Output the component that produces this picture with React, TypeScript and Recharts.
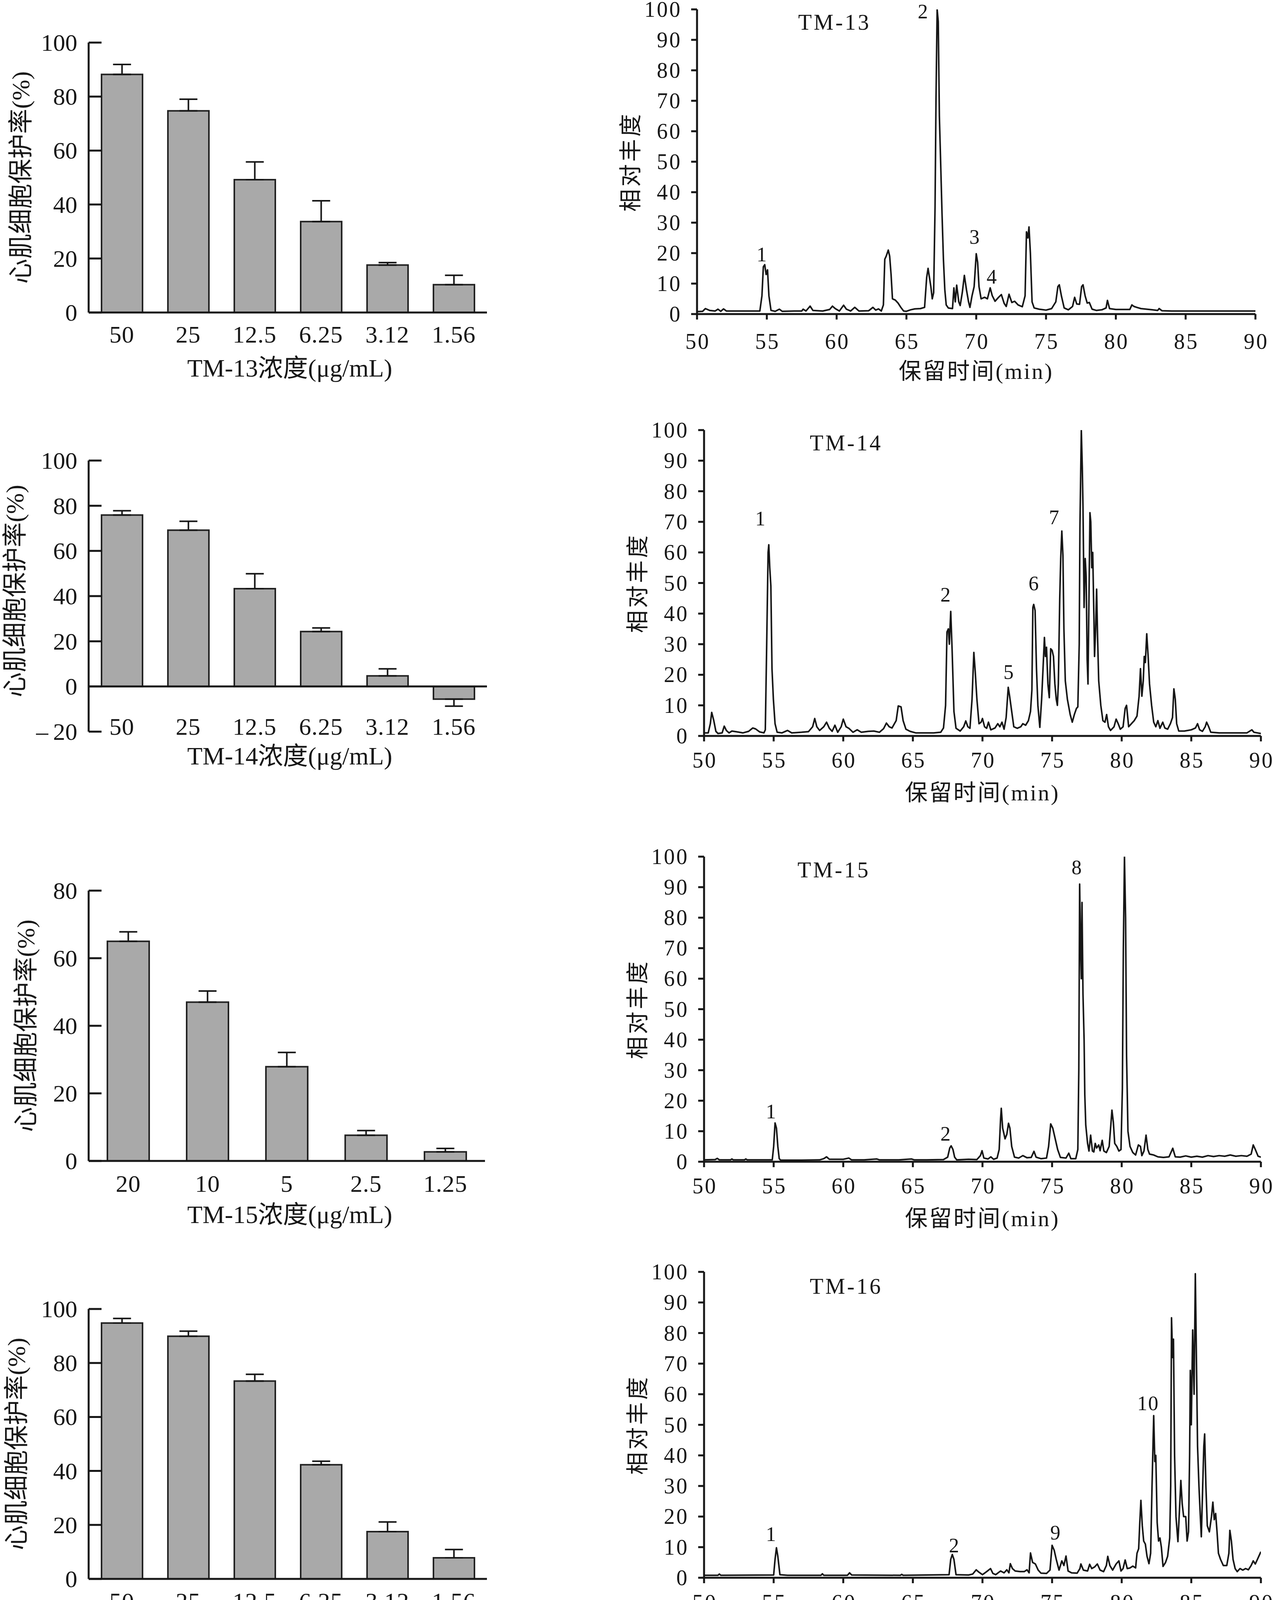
import React from 'react';
import {
  BarChart,
  Bar,
  XAxis,
  YAxis,
  ErrorBar,
  ReferenceLine,
  LineChart,
  Line,
  ReferenceDot,
} from 'recharts';

const FONT = "'Liberation Serif', 'Noto Sans CJK SC', serif";
const INK = '#161616';

// ---------- bar chart data ----------
const concA = ['50', '25', '12.5', '6.25', '3.12', '1.56'];
const concB = ['20', '10', '5', '2.5', '1.25'];

const tm13Rate = [88.2, 74.7, 49.2, 33.7, 17.6, 10.3];
const tm13Err = [3.7, 4.3, 6.6, 7.7, 0.9, 3.5];
const tm14Rate = [75.9, 69.2, 43.3, 24.3, 4.7, -5.6];
const tm14Err = [1.9, 3.9, 6.6, 1.6, 3.1, 3.1];
const tm15Rate = [65.0, 47.0, 27.9, 7.6, 2.7];
const tm15Err = [2.8, 3.3, 4.2, 1.4, 1.0];
const tm16Rate = [94.8, 89.9, 73.3, 42.3, 17.5, 7.8];
const tm16Err = [1.7, 1.9, 2.5, 1.3, 3.6, 3.1];
const tm17Rate = [92.7, 78.9, 35.4, 17.1, 10.8, 4.4];
const tm17Err = [2.2, 4.3, 3.6, 2.2, 3.0, 3.9];

const rateTicks100 = [0, 20, 40, 60, 80, 100];
const rateTicks14 = [-20, 0, 20, 40, 60, 80, 100];
const rateTicks80 = [0, 20, 40, 60, 80];

// ---------- chromatogram data ----------
const timeTicks = [50, 55, 60, 65, 70, 75, 80, 85, 90];
const abundTicks = [0, 10, 20, 30, 40, 50, 60, 70, 80, 90, 100];

const tm13Trace = [
  [50, 0.8], [50.4, 0.9], [50.6, 1.8], [50.9, 1.2], [51.3, 1.0], [51.5, 1.6], [51.7, 0.9], [51.9, 1.7], [52.1, 1.0], [53, 1.0], [54, 1.0], [54.5, 1.0],
  [54.65, 6], [54.75, 15.5], [54.85, 16.2], [54.95, 13], [55.05, 14.5], [55.15, 6], [55.3, 1.2], [55.6, 0.9], [55.9, 1.6], [56.1, 0.9], [57, 1.0], [57.5, 1.0],
  [57.6, 1.6], [57.8, 1.0], [58.1, 2.6], [58.3, 1.2], [59, 1.0], [59.5, 1.5], [59.7, 2.6], [59.9, 1.8], [60.2, 1.0], [60.5, 2.9], [60.7, 1.6], [61.0, 1.0],
  [61.3, 2.2], [61.6, 1.0], [62.3, 1.1], [62.6, 2.2], [62.8, 1.3], [63.0, 1.7], [63.2, 1.0], [63.35, 3], [63.45, 18], [63.55, 19], [63.7, 21], [63.8, 19],
  [63.9, 13], [64.0, 5], [64.2, 4.6], [64.4, 3.6], [64.6, 2.2], [64.8, 1.0], [65.0, 0.9], [65.3, 1.4], [65.6, 1.7], [66.0, 1.8], [66.3, 2.2], [66.45, 12],
  [66.55, 15], [66.65, 12], [66.75, 9], [66.85, 5], [66.95, 7], [67.05, 35], [67.12, 71], [67.2, 100], [67.28, 96], [67.36, 65], [67.45, 50], [67.55, 33],
  [67.65, 18], [67.75, 8], [67.85, 3], [68.0, 2], [68.3, 1.8], [68.4, 8.6], [68.5, 4], [68.6, 9.5], [68.75, 4], [68.85, 2.8], [69.0, 7], [69.15, 12.7],
  [69.3, 8], [69.45, 4], [69.55, 2.2], [69.7, 6], [69.85, 9], [70.0, 19.8], [70.1, 17], [70.2, 9], [70.35, 5], [70.6, 5.5], [70.8, 5], [71.0, 8.6],
  [71.15, 6], [71.35, 4.2], [71.6, 5.5], [71.8, 6.4], [72.0, 3.5], [72.15, 2.5], [72.35, 6.5], [72.55, 3.8], [72.75, 4.2], [73.0, 3], [73.3, 2.4], [73.5, 6],
  [73.6, 27], [73.7, 25], [73.78, 28.6], [73.88, 20], [74.0, 4], [74.15, 2], [74.5, 1.6], [75.0, 1.3], [75.4, 1.8], [75.7, 4], [75.85, 9], [75.95, 9.6],
  [76.1, 6], [76.3, 2], [76.6, 1.4], [76.9, 2.5], [77.05, 5.5], [77.2, 3.3], [77.4, 3.2], [77.55, 9], [77.65, 9.6], [77.8, 6], [77.95, 3.6], [78.1, 3.8],
  [78.3, 1.6], [78.6, 1.2], [79.0, 1.4], [79.3, 2], [79.4, 4.5], [79.55, 1.8], [80.0, 1.5], [80.5, 1.5], [81.0, 1.5], [81.15, 3], [81.3, 2.5], [81.5, 2.2],
  [81.8, 1.8], [82.2, 1.6], [82.6, 1.4], [83.0, 1.2], [83.1, 1.8], [83.3, 1.1], [84, 1.0], [85, 1.0], [86, 1.0], [87, 1.0], [88, 1.0], [89, 1.0], [90, 1.0],
];

const tm14Trace = [
  [50, 1.0], [50.3, 1.0], [50.45, 4], [50.55, 7.7], [50.7, 5], [50.85, 1.5], [51.0, 0.8], [51.3, 1.0], [51.45, 3.2], [51.6, 1.8], [51.8, 1.0], [52.0, 1.6],
  [52.4, 1.3], [52.8, 1.0], [53.2, 1.5], [53.5, 2.6], [53.7, 2.3], [54.0, 1.3], [54.3, 1.0], [54.4, 2], [54.5, 30], [54.6, 60], [54.65, 62.5], [54.72, 55],
  [54.8, 49], [54.88, 22], [54.98, 12], [55.1, 4], [55.25, 1.2], [55.6, 1.0], [56.0, 1.8], [56.3, 1.0], [57.0, 1.2], [57.5, 1.4], [57.8, 3], [57.95, 5.7],
  [58.1, 3], [58.3, 1.8], [58.6, 3], [58.8, 4.5], [59.0, 2.5], [59.2, 1.5], [59.4, 3.5], [59.6, 1.2], [59.85, 3], [60.0, 5.5], [60.2, 3], [60.4, 2.5],
  [60.7, 1.2], [61.0, 2], [61.3, 1.2], [61.8, 1.5], [62.2, 1.6], [62.6, 1.2], [62.9, 2.4], [63.1, 4.2], [63.3, 3], [63.5, 2.6], [63.8, 5], [63.95, 9.8],
  [64.15, 9.5], [64.3, 5], [64.5, 2.2], [64.8, 1.5], [65.2, 1.0], [65.8, 1.0], [66.5, 1.0], [67.0, 1.2], [67.2, 2.6], [67.35, 10], [67.45, 34], [67.55, 35],
  [67.62, 30], [67.72, 40.7], [67.82, 28], [67.95, 8], [68.1, 2.5], [68.4, 1.6], [68.65, 3], [68.8, 4.9], [68.95, 3], [69.1, 2.5], [69.25, 12], [69.38, 27.3],
  [69.48, 21], [69.6, 12], [69.75, 4], [69.9, 4.5], [70.0, 5.7], [70.15, 3], [70.3, 2.5], [70.43, 4.5], [70.6, 2], [70.9, 2.6], [71.1, 4], [71.25, 3],
  [71.4, 4.5], [71.55, 2.2], [71.7, 6], [71.85, 15.9], [71.95, 13], [72.1, 8], [72.25, 3], [72.5, 2.5], [72.75, 3], [72.9, 4], [73.1, 3.5], [73.3, 5],
  [73.45, 8], [73.55, 15], [73.62, 42], [73.68, 43], [73.78, 41], [73.88, 22], [73.98, 10], [74.12, 2.8], [74.25, 12], [74.35, 22], [74.45, 32.2], [74.52, 26],
  [74.6, 29], [74.7, 17], [74.8, 12.5], [74.9, 28.5], [75.0, 28], [75.1, 26], [75.2, 17], [75.3, 12], [75.38, 10], [75.45, 17], [75.55, 45], [75.62, 58],
  [75.7, 67], [75.78, 59], [75.85, 35], [75.95, 18], [76.1, 12], [76.3, 7], [76.45, 4.5], [76.6, 7], [76.75, 9], [76.85, 9.5], [76.95, 30], [77.0, 68],
  [77.1, 100], [77.17, 88], [77.22, 75], [77.3, 42], [77.38, 58], [77.45, 52], [77.52, 25], [77.58, 17], [77.65, 45], [77.72, 73], [77.78, 70], [77.85, 55],
  [77.92, 60], [78.0, 40], [78.05, 26], [78.13, 35], [78.2, 48], [78.27, 32], [78.35, 18], [78.5, 10], [78.65, 5], [78.8, 4.5], [78.92, 7], [79.05, 3],
  [79.2, 1.8], [79.45, 3], [79.6, 5.5], [79.75, 4], [79.9, 2.2], [80.1, 3], [80.25, 9], [80.35, 10], [80.5, 3], [80.7, 4], [80.9, 5], [81.1, 6.5],
  [81.25, 13], [81.35, 22], [81.45, 13], [81.55, 18], [81.62, 26], [81.7, 24], [81.8, 33.4], [81.9, 26], [82.0, 17], [82.15, 10], [82.3, 4.5], [82.45, 3],
  [82.6, 5], [82.75, 2.5], [82.95, 4.5], [83.1, 2.6], [83.3, 2.2], [83.5, 4], [83.65, 6], [83.75, 15.4], [83.85, 12], [83.95, 4], [84.1, 1.6], [84.5, 1.6],
  [85.0, 2], [85.3, 2.6], [85.45, 4], [85.6, 2], [85.8, 1.5], [86.0, 3], [86.1, 4.5], [86.25, 3], [86.4, 1.2], [87, 1.0], [87.5, 1.0], [88, 1.0],
  [88.5, 1.0], [89, 1.0], [89.35, 2], [89.5, 1.2], [90, 0.8],
];

const tm15Trace = [
  [50, 0.6], [50.8, 0.7], [50.95, 1.1], [51.1, 0.6], [51.9, 0.6], [52.0, 0.9], [52.1, 0.6], [52.9, 0.6], [53.0, 0.9], [53.1, 0.6], [54.9, 0.6], [55.0, 5],
  [55.1, 12.7], [55.2, 11], [55.3, 5], [55.4, 1], [55.5, 0.5], [56, 0.5], [57, 0.5], [58.3, 0.6], [58.6, 1], [58.8, 1.6], [59.0, 0.8], [59.5, 0.8],
  [60.0, 0.8], [60.4, 1.2], [60.6, 0.6], [61.5, 0.6], [62.4, 0.9], [62.6, 0.6], [64, 0.6], [64.9, 0.9], [65.1, 0.6], [66, 0.6], [67.2, 0.7], [67.5, 1.5],
  [67.65, 4.5], [67.75, 5.2], [67.88, 4], [68.0, 1.5], [68.15, 0.6], [69.0, 0.8], [69.6, 0.7], [69.85, 2], [69.97, 3.6], [70.1, 1.2], [70.4, 0.9], [70.6, 1.6],
  [70.8, 0.8], [71.05, 1.2], [71.2, 4], [71.3, 14], [71.35, 17.5], [71.45, 11], [71.55, 9], [71.62, 7.5], [71.75, 9], [71.87, 12.6], [71.97, 11], [72.1, 5],
  [72.3, 1.5], [72.6, 1.2], [72.9, 2], [73.2, 1.3], [73.5, 1.4], [73.7, 3.4], [73.85, 1.5], [74.2, 1.0], [74.6, 1.2], [74.75, 5], [74.9, 12.4], [75.05, 11],
  [75.2, 8], [75.4, 4], [75.6, 1.4], [76.0, 1.2], [76.2, 2.8], [76.35, 1.0], [76.7, 1.0], [76.85, 4], [76.92, 30], [76.98, 91], [77.05, 70], [77.1, 60],
  [77.15, 85], [77.22, 55], [77.3, 40], [77.35, 22], [77.42, 12], [77.55, 6], [77.65, 3.5], [77.77, 8.7], [77.9, 3.5], [78.0, 3.2], [78.1, 6], [78.2, 4.5],
  [78.35, 5.5], [78.45, 3.6], [78.6, 7], [78.72, 3.5], [78.9, 3], [79.1, 5], [79.22, 12], [79.3, 16.9], [79.4, 13], [79.5, 6], [79.65, 5], [79.8, 3.5],
  [79.95, 4], [80.05, 24], [80.12, 70], [80.2, 100], [80.28, 80], [80.35, 35], [80.45, 10], [80.6, 5], [80.8, 3], [81.0, 2.2], [81.2, 5.5], [81.35, 5],
  [81.45, 2], [81.6, 3.5], [81.75, 8.7], [81.88, 4], [82.0, 2.5], [82.3, 2.2], [82.6, 1.6], [83.0, 1.4], [83.4, 1.6], [83.67, 4.4], [83.85, 1.6], [84.2, 1.5],
  [84.6, 1.9], [85.0, 1.5], [85.4, 1.8], [85.8, 1.5], [86.2, 2.0], [86.6, 1.7], [87.0, 2.0], [87.4, 1.8], [87.8, 2.2], [88.2, 1.8], [88.6, 2.0], [89.0, 1.8],
  [89.3, 2.5], [89.45, 5.5], [89.6, 4], [89.8, 1.8], [90, 1.5],
];

const tm16Trace = [
  [50, 0.8], [51, 0.8], [51.1, 1.2], [51.2, 0.8], [55.0, 0.9], [55.1, 6], [55.2, 9.8], [55.3, 7], [55.45, 1.0], [56, 0.8], [58.4, 0.8], [58.5, 1.3],
  [58.6, 0.8], [60.3, 0.8], [60.45, 1.6], [60.6, 0.9], [64.1, 0.8], [64.2, 1.1], [64.3, 0.8], [67.6, 1.0], [67.72, 6], [67.83, 7.6], [67.95, 6], [68.1, 1.0],
  [69.0, 0.9], [69.3, 1.2], [69.55, 2.6], [69.75, 1.8], [70.0, 1.0], [70.3, 2], [70.58, 3], [70.75, 1.4], [70.95, 1.0], [71.3, 2.2], [71.55, 1.6], [71.75, 2.6],
  [71.9, 1.6], [72.0, 4.6], [72.15, 3], [72.35, 2.2], [72.7, 2], [73.0, 2], [73.2, 2.6], [73.35, 1.6], [73.45, 8.1], [73.6, 5], [73.8, 4.5], [74.0, 2.5],
  [74.2, 1.5], [74.6, 1.4], [74.85, 2.5], [75.0, 10.6], [75.15, 9], [75.3, 6], [75.5, 2.5], [75.7, 5.5], [75.85, 4], [76.0, 7.1], [76.15, 2.2], [76.4, 1.6],
  [76.8, 1.5], [77.0, 3], [77.07, 4.5], [77.25, 2.5], [77.55, 2.2], [77.7, 4.4], [77.85, 3], [78.05, 3.5], [78.25, 4.5], [78.45, 2.5], [78.7, 2], [78.9, 4],
  [79.0, 7], [79.15, 4], [79.35, 2.5], [79.6, 4.5], [79.8, 5.5], [79.95, 2.2], [80.1, 3], [80.25, 5.8], [80.4, 3], [80.6, 3.2], [80.8, 3.8], [81.0, 3.2],
  [81.1, 8], [81.22, 9.5], [81.3, 18], [81.38, 25.3], [81.48, 17], [81.58, 12], [81.7, 11], [81.82, 7], [81.96, 4.6], [82.08, 8], [82.18, 30], [82.3, 53],
  [82.38, 38], [82.45, 40], [82.55, 18], [82.65, 12], [82.75, 13], [82.85, 10], [82.97, 3.7], [83.15, 5], [83.3, 7], [83.45, 13], [83.52, 30], [83.58, 85],
  [83.66, 72], [83.72, 78], [83.8, 40], [83.9, 20], [84.04, 11.8], [84.15, 22], [84.25, 31.8], [84.35, 24], [84.45, 20], [84.6, 20], [84.7, 12], [84.8, 15],
  [84.88, 40], [84.93, 67.8], [85.0, 50], [85.1, 81], [85.2, 60], [85.29, 99.4], [85.36, 75], [85.45, 43], [85.55, 30], [85.65, 20], [85.72, 13.4], [85.82, 30],
  [85.9, 43], [85.96, 47], [86.05, 30], [86.15, 17], [86.3, 15], [86.45, 20], [86.55, 24.7], [86.65, 19], [86.75, 21], [86.85, 15], [86.95, 8], [87.1, 6],
  [87.3, 4], [87.55, 4], [87.7, 8], [87.77, 15.5], [87.88, 12], [88.0, 6], [88.15, 3], [88.3, 2], [88.5, 3], [88.7, 2.5], [88.9, 3], [89.1, 2.6],
  [89.3, 4], [89.45, 5.5], [89.6, 4.5], [89.75, 6], [89.85, 7], [90, 8.5],
];

const tm17Trace = [
  [50, 1.5], [50.3, 1.3], [50.6, 2], [50.8, 1.2], [51.0, 1.8], [51.3, 1.2], [51.6, 2], [51.9, 1.2], [52.3, 1.6], [52.8, 1.2], [53.3, 1.5], [53.8, 1.1],
  [54.3, 1.5], [54.8, 1.3], [54.9, 1.8], [54.98, 6], [55.05, 8], [55.15, 6], [55.25, 2], [55.5, 0.8], [55.8, 1.2], [56.2, 1.0], [56.5, 1.6], [57.0, 1.3],
  [57.5, 1.6], [57.7, 1.9], [58.2, 1.3], [58.7, 1.5], [59.2, 1.4], [59.7, 1.6], [60.2, 1.3], [60.7, 1.5], [61.2, 1.3], [61.7, 1.5], [62.2, 1.2], [62.7, 1.4],
  [63.0, 1.6], [63.1, 2.5], [63.2, 1.3], [63.7, 1.1], [64.2, 1.3], [64.7, 1.2], [65.2, 1.4], [65.7, 1.3], [66.2, 1.4], [66.7, 1.5], [67.2, 1.5], [67.4, 2],
  [67.5, 7], [67.6, 9.3], [67.7, 8.5], [67.8, 5], [67.95, 2.2], [68.2, 1.5], [68.6, 1.6], [69.0, 1.8], [69.3, 2], [69.45, 4], [69.6, 2.6], [69.8, 1.8],
  [70.1, 2.2], [70.3, 2.5], [70.43, 4], [70.6, 3.2], [70.9, 2.8], [71.2, 2.4], [71.5, 1.8], [71.7, 3], [71.8, 5], [71.88, 13], [71.98, 17], [72.08, 8],
  [72.2, 12], [72.3, 9], [72.4, 6], [72.55, 4], [72.7, 3], [72.85, 8], [72.94, 10.9], [73.05, 5], [73.2, 3], [73.4, 5], [73.55, 7], [73.64, 8.9],
  [73.8, 4], [74.0, 3.4], [74.3, 2.8], [74.6, 2.5], [74.8, 4], [74.9, 6.5], [75.0, 7.2], [75.15, 3], [75.4, 2.8], [75.6, 4], [75.72, 12], [75.8, 30],
  [75.85, 39], [75.95, 28], [76.05, 15], [76.2, 5], [76.35, 2.5], [76.6, 2.8], [76.9, 3.5], [77.0, 5], [77.15, 3.5], [77.4, 4.2], [77.6, 3.5], [77.77, 6.5],
  [77.9, 3], [78.15, 4], [78.3, 3], [78.45, 5.2], [78.6, 3.2], [78.9, 3.8], [79.1, 3.5], [79.24, 7], [79.35, 4], [79.6, 4.6], [79.8, 4], [80.0, 5],
  [80.15, 8.4], [80.3, 4.5], [80.5, 5.2], [80.7, 4], [80.9, 3.5], [81.1, 4], [81.3, 7], [81.5, 7.2], [81.65, 7], [81.74, 15.3], [81.85, 8], [82.0, 5],
  [82.15, 8], [82.3, 20.6], [82.4, 10], [82.5, 5], [82.8, 5.2], [83.0, 6], [83.3, 5], [83.5, 5.5], [83.58, 18.9], [83.68, 10], [83.8, 14], [83.95, 8],
  [84.08, 20], [84.19, 27], [84.3, 16], [84.4, 12], [84.5, 5], [84.62, 9], [84.74, 12], [84.9, 7], [85.05, 5.2], [85.25, 9], [85.35, 14], [85.5, 8],
  [85.7, 16], [85.85, 12], [86.0, 20], [86.12, 10], [86.25, 7], [86.38, 26], [86.48, 54.6], [86.58, 33], [86.68, 12], [86.85, 6], [87.0, 5], [87.16, 4],
  [87.3, 8], [87.45, 6], [87.6, 12.8], [87.75, 10], [87.9, 8], [88.05, 4], [88.12, 15], [88.25, 17], [88.35, 14], [88.45, 19], [88.55, 14], [88.65, 18],
  [88.75, 13], [88.85, 19], [88.95, 15], [89.05, 22], [89.14, 47], [89.25, 30], [89.35, 60], [89.45, 99.5], [89.52, 55], [89.6, 52], [89.7, 38], [89.8, 20],
  [89.9, 8],
];

// peak / sample annotations: text anchored at (time, abundance)
const tm13Marks = [
  { text: 'TM-13', t: 59.85, v: 95.8 },
  { text: '1', t: 54.66, v: 19.6 },
  { text: '2', t: 66.2, v: 99.3 },
  { text: '3', t: 69.9, v: 25.3 },
  { text: '4', t: 71.13, v: 12.3 },
];
const tm14Marks = [
  { text: 'TM-14', t: 60.21, v: 95.9 },
  { text: '1', t: 54.07, v: 71.1 },
  { text: '2', t: 67.37, v: 46.2 },
  { text: '5', t: 71.9, v: 20.9 },
  { text: '6', t: 73.7, v: 49.9 },
  { text: '7', t: 75.17, v: 71.5 },
];
const tm15Marks = [
  { text: 'TM-15', t: 59.33, v: 95.7 },
  { text: '1', t: 54.83, v: 16.5 },
  { text: '2', t: 67.37, v: 9.1 },
  { text: '8', t: 76.79, v: 96.5 },
];
const tm16Marks = [
  { text: 'TM-16', t: 60.21, v: 95.4 },
  { text: '1', t: 54.83, v: 14.3 },
  { text: '2', t: 67.98, v: 10.6 },
  { text: '9', t: 75.26, v: 14.7 },
  { text: '10', t: 81.9, v: 57.0 },
];
const tm17Marks = [
  { text: 'TM-17', t: 60.03, v: 98.6 },
  { text: '1', t: 54.83, v: 12.8 },
  { text: '2', t: 67.37, v: 12.4 },
  { text: '5', t: 71.8, v: 19.7 },
  { text: '11', t: 73.39, v: 16.1 },
  { text: '10', t: 84.19, v: 32.9 },
];

// ---------- bar panel ----------
const BarYTick = (props: any) => {
  const { x, y, payload } = props;
  const v = payload.value;
  const txt = v < 0 ? '\u2013\u2009' + -v : String(v);
  return (
    <g>
      <line x1={x} x2={x + 33} y1={y} y2={y} stroke={INK} strokeWidth={5} />
      <text x={x - 29} y={y} textAnchor="end" dominantBaseline="central" fontFamily={FONT} fontSize={62} fill={INK}>
        {txt}
      </text>
    </g>
  );
};

const BarXTick = (props: any) => {
  const { x, y, payload, off } = props;
  return (
    <text x={x} y={y + off} textAnchor="middle" dominantBaseline="central" fontFamily={FONT} fontSize={62} letterSpacing={1} fill={INK}>
      {payload.value}
    </text>
  );
};

function BarPanel(p: any) {
  const mt = 60;
  const mb = 230;
  const plotLeft = 227;
  const plotRight = plotLeft + p.band * p.conc.length;
  const W = plotRight + 40;
  const top = p.plotTop - mt;
  const H = p.plotBottom - p.plotTop + mt + mb;
  const data = p.conc.map((c: string, i: number) => ({
    c,
    v: p.rate[i],
    e: p.rate[i] >= 0 ? [0, p.err[i]] : [p.err[i], 0],
  }));
  const cy = (p.plotTop + p.plotBottom) / 2 - top + (p.yLabelShift || 0);
  return (
    <div style={{ position: 'absolute', left: 0, top, width: W, height: H }}>
      <BarChart width={W} height={H} data={data} margin={{ top: mt, right: 40, left: 0, bottom: 0 }}>
        <XAxis
          dataKey="c"
          height={mb}
          interval={0}
          axisLine={p.zeroAxis ? false : { stroke: INK, strokeWidth: 5 }}
          tickLine={false}
          tickSize={0}
          tickMargin={0}
          tick={(tp: any) => <BarXTick {...tp} off={p.labelY - p.plotBottom} />}
          label={() => (
            <text x={742} y={p.titleY - top} textAnchor="middle" dominantBaseline="central" fontFamily={FONT} fontSize={64} fill={INK}>
              {p.xTitle}
            </text>
          )}
        />
        <YAxis
          type="number"
          width={plotLeft}
          domain={p.domain}
          ticks={p.ticks}
          interval={0}
          allowDataOverflow
          axisLine={{ stroke: INK, strokeWidth: 5 }}
          tickLine={false}
          tickSize={0}
          tickMargin={0}
          tick={(tp: any) => <BarYTick {...tp} />}
          label={() => (
            <text
              transform={`translate(${p.yLabelX}, ${cy}) rotate(-90)`}
              textAnchor="middle"
              dominantBaseline="central"
              fontFamily={FONT}
              fontSize={64}
              fill={INK}
            >
              心肌细胞保护率(%)
            </text>
          )}
        />
        {p.zeroAxis && <ReferenceLine y={0} stroke={INK} strokeWidth={5} />}
        <Bar dataKey="v" fill="#a9a9a9" stroke="#222" strokeWidth={4} barSize={p.barSize} isAnimationActive={false}>
          <ErrorBar dataKey="e" direction="y" width={23} stroke={INK} strokeWidth={4} />
        </Bar>
      </BarChart>
    </div>
  );
}

// ---------- chromatogram panel ----------
const ChromYTick = (props: any) => {
  const { x, y, payload } = props;
  return (
    <text x={x - 24} y={y} textAnchor="end" dominantBaseline="central" fontFamily={FONT} fontSize={56} letterSpacing={4} fill={INK}>
      {payload.value}
    </text>
  );
};

const ChromXTick = (props: any) => {
  const { x, y, payload, off } = props;
  return (
    <text x={x + 2} y={y + off} textAnchor="middle" dominantBaseline="central" fontFamily={FONT} fontSize={56} letterSpacing={4} fill={INK}>
      {payload.value}
    </text>
  );
};

function ChromPanel(p: any) {
  const left0 = 1450;
  const mt = 60;
  const mb = 220;
  const mr = 30;
  const W = p.plotRight - left0 + mr;
  const H = p.plotBottom - p.plotTop + mt + mb;
  const top = p.plotTop - mt;
  const data = p.trace.map(([t, v]: number[]) => ({ t, v }));
  const plotCX = (p.plotLeft + p.plotRight) / 2 - left0;
  const plotCY = (p.plotTop + p.plotBottom) / 2 - top;
  return (
    <div style={{ position: 'absolute', left: left0, top, width: W, height: H }}>
      <LineChart width={W} height={H} data={data} margin={{ top: mt, right: mr, left: 0, bottom: 0 }}>
        <XAxis
          dataKey="t"
          type="number"
          domain={[50, 90]}
          ticks={timeTicks}
          interval={0}
          allowDataOverflow
          height={mb}
          axisLine={{ stroke: INK, strokeWidth: 5 }}
          tickLine={{ stroke: INK, strokeWidth: 5 }}
          tickSize={14}
          tickMargin={0}
          tick={(tp: any) => <ChromXTick {...tp} off={p.tickLabelY - p.plotBottom - 14} />}
          label={() => (
            <text x={plotCX} y={p.titleY - top} textAnchor="middle" dominantBaseline="central" fontFamily={FONT} fontSize={58} letterSpacing={4} fill={INK}>
              保留时间(min)
            </text>
          )}
        />
        <YAxis
          type="number"
          domain={[0, 100]}
          ticks={abundTicks}
          interval={0}
          allowDataOverflow
          width={p.plotLeft - left0}
          axisLine={{ stroke: INK, strokeWidth: 5 }}
          tickLine={{ stroke: INK, strokeWidth: 5 }}
          tickSize={15}
          tickMargin={0}
          tick={(tp: any) => <ChromYTick {...tp} />}
          label={() => (
            <text
              transform={`translate(${p.plotLeft - left0 - 170}, ${plotCY}) rotate(-90)`}
              textAnchor="middle"
              dominantBaseline="central"
              fontFamily={FONT}
              fontSize={58}
              letterSpacing={6}
              fill={INK}
            >
              相对丰度
            </text>
          )}
        />
        <Line
          dataKey="v"
          type="linear"
          stroke={INK}
          strokeWidth={4}
          strokeLinejoin="round"
          dot={false}
          activeDot={false}
          isAnimationActive={false}
        />
        {p.marks.map((m: any, i: number) => (
          <ReferenceDot
            key={i}
            x={m.t}
            y={m.v}
            r={0}
            shape={(sp: any) => (
              <text
                x={sp.cx}
                y={sp.cy}
                textAnchor="middle"
                dominantBaseline="central"
                fontFamily={FONT}
                fontSize={m.text.startsWith('TM') ? 57 : 52}
                letterSpacing={m.text.startsWith('TM') ? 5 : 2}
                fill={INK}
              >
                {m.text}
              </text>
            )}
          />
        ))}
      </LineChart>
    </div>
  );
}

export default function App() {
  return (
    <div style={{ position: 'absolute', left: 0, top: 0, width: 3260, height: 5329, background: '#fff', overflow: 'hidden' }}>
      <BarPanel conc={concA} rate={tm13Rate} err={tm13Err} xTitle="TM-13浓度(μg/mL)" domain={[0, 100]} ticks={rateTicks100}
        band={170} barSize={105} plotTop={109} plotBottom={800} labelY={856} titleY={942} yLabelX={53} />
      <BarPanel conc={concA} rate={tm14Rate} err={tm14Err} xTitle="TM-14浓度(μg/mL)" domain={[-20, 100]} ticks={rateTicks14}
        band={170} barSize={105} plotTop={1179} plotBottom={1873} labelY={1860} titleY={1935} yLabelX={38} yLabelShift={-13} zeroAxis />
      <BarPanel conc={concB} rate={tm15Rate} err={tm15Err} xTitle="TM-15浓度(μg/mL)" domain={[0, 80]} ticks={rateTicks80}
        band={203} barSize={107} plotTop={2280} plotBottom={2972} labelY={3030} titleY={3109} yLabelX={66} />
      <BarPanel conc={concA} rate={tm16Rate} err={tm16Err} xTitle="TM-16浓度(μg/mL)" domain={[0, 100]} ticks={rateTicks100}
        band={170} barSize={105} plotTop={3351} plotBottom={4042} labelY={4099} titleY={4181} yLabelX={42} />
      <BarPanel conc={concA} rate={tm17Rate} err={tm17Err} xTitle="TM-16浓度(μg/mL)" domain={[0, 100]} ticks={rateTicks100}
        band={170} barSize={105} plotTop={4465} plotBottom={5155} labelY={5209} titleY={5288} yLabelX={52} />

      <ChromPanel trace={tm13Trace} marks={tm13Marks} plotLeft={1785} plotRight={3215} plotTop={24} plotBottom={804} tickLabelY={874} titleY={950} />
      <ChromPanel trace={tm14Trace} marks={tm14Marks} plotLeft={1803} plotRight={3229} plotTop={1101} plotBottom={1884} tickLabelY={1946} titleY={2029} />
      <ChromPanel trace={tm15Trace} marks={tm15Marks} plotLeft={1803} plotRight={3229} plotTop={2193} plotBottom={2974} tickLabelY={3036} titleY={3119} />
      <ChromPanel trace={tm16Trace} marks={tm16Marks} plotLeft={1803} plotRight={3229} plotTop={3256} plotBottom={4039} tickLabelY={4102} titleY={4188} />
      <ChromPanel trace={tm17Trace} marks={tm17Marks} plotLeft={1803} plotRight={3229} plotTop={4315} plotBottom={5154} tickLabelY={5218} titleY={5299} />
    </div>
  );
}
